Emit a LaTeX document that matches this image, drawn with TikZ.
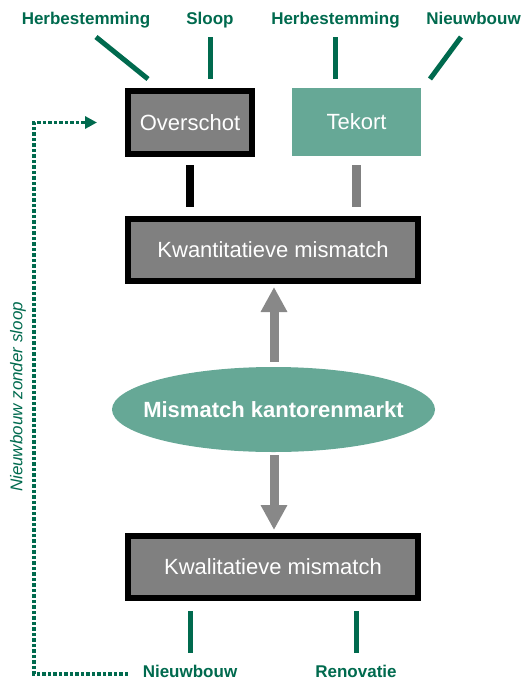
\documentclass[tikz,border=0pt]{standalone}
\usepackage{fontspec}
\setmainfont{Liberation Sans}
\usetikzlibrary{shapes.geometric,arrows.meta}

\definecolor{dkgreen}{RGB}{0,106,78}
\definecolor{mdgreen}{RGB}{102,168,150}
\definecolor{boxgray}{RGB}{128,128,128}
\definecolor{arrgray}{RGB}{136,136,136}

\tikzset{
  greybox/.style={draw=black, line width=6pt, fill=boxgray, text=white,
    inner sep=0pt, font=\fontsize{22}{26}\selectfont},
  greenbox/.style={fill=mdgreen, text=white, inner sep=0pt,
    font=\fontsize{22}{26}\selectfont},
  toplabel/.style={text=dkgreen, inner sep=0pt, anchor=base,
    font=\bfseries\fontsize{17}{20}\selectfont},
  gline/.style={draw=dkgreen, line width=5pt},
  bigarrow/.style={draw=arrgray, line width=9pt,
    -{Triangle[width=25pt,length=25pt]}, arrgray},
  dotline/.style={draw=dkgreen, line width=3.6pt, dash pattern=on 3.4pt off 2.1pt,
    -{Triangle[width=12pt,length=12pt]}, dkgreen},
}

\begin{document}
\begin{tikzpicture}[x=1pt, y=-1pt]
\useasboundingbox (0,0) rectangle (530,681);

% boxes
\node[greybox, minimum width=124pt, minimum height=63pt] (ov) at (190,122.5) {Overschot};
\node[greenbox, minimum width=129pt, minimum height=68pt] (tk) at (356.5,122) {Tekort};
\node[greybox, minimum width=290pt, minimum height=62pt] (kwan) at (273,250) {Kwantitatieve mismatch};
\node[greybox, minimum width=290pt, minimum height=62pt] (kwal) at (273,567) {Kwalitatieve mismatch};
\node[ellipse, fill=mdgreen, text=white, inner sep=0pt, minimum width=323pt,
  minimum height=85pt, font=\bfseries\fontsize{22}{26}\selectfont]
  (mm) at (273.5,409.5) {\makebox[0pt]{Mismatch kantorenmarkt}};

% labels around the boxes
\node[toplabel] (h1) at (86,24) {Herbestemming};
\node[toplabel] (sl) at (210,24) {Sloop};
\node[toplabel] (h2) at (335.5,24) {Herbestemming};
\node[toplabel] (nw) at (473.5,24) {Nieuwbouw};
\node[toplabel] (nb) at (190,677) {Nieuwbouw};
\node[toplabel] (rn) at (356,677) {Renovatie};
\node[text=dkgreen, rotate=90, inner sep=0pt,
  font=\itshape\fontsize{17}{20}\selectfont] (nzs) at (18,397) {Nieuwbouw zonder sloop};

% short connector bars between the upper boxes
\draw[line width=8pt, black] ([yshift=-8pt]ov.south) -- ([yshift=9pt]ov.south |- kwan.north);
\draw[line width=9pt, boxgray] ([yshift=-9pt]tk.south) -- ([yshift=9pt]tk.south |- kwan.north);

% green ticks above the boxes
\coordinate (h1a) at (96,37);  \coordinate (h1b) at (148,79);
\coordinate (sla) at (210,37); \coordinate (slb) at (210,79);
\coordinate (h2a) at (335,37); \coordinate (h2b) at (335,79);
\coordinate (nwa) at (461,37); \coordinate (nwb) at (430,79);
\draw[gline] (h1a) -- (h1b);
\draw[gline] (sla) -- (slb);
\draw[gline] (h2a) -- (h2b);
\draw[gline] (nwa) -- (nwb);

% green ticks below the lower box
\draw[gline] ([yshift=-10pt]nb |- kwal.south) -- (190,653);
\draw[gline] ([yshift=-10pt]rn |- kwal.south) -- (356,653);

% arrows out of the ellipse
\draw[bigarrow] ([yshift=5pt]mm.north -| 274,0) -- ([yshift=-3pt]kwan.south -| 274,0);
\draw[bigarrow] ([yshift=-3pt]mm.south -| 274,0) -- ([yshift=3pt]kwal.north -| 274,0);

% dotted feedback path
\coordinate (dstart) at (128,674);
\coordinate (dcorner) at (34,674);
\draw[dotline] (dstart) -- (dcorner) |- ([xshift=-28pt]ov.west);
\end{tikzpicture}
\end{document}
